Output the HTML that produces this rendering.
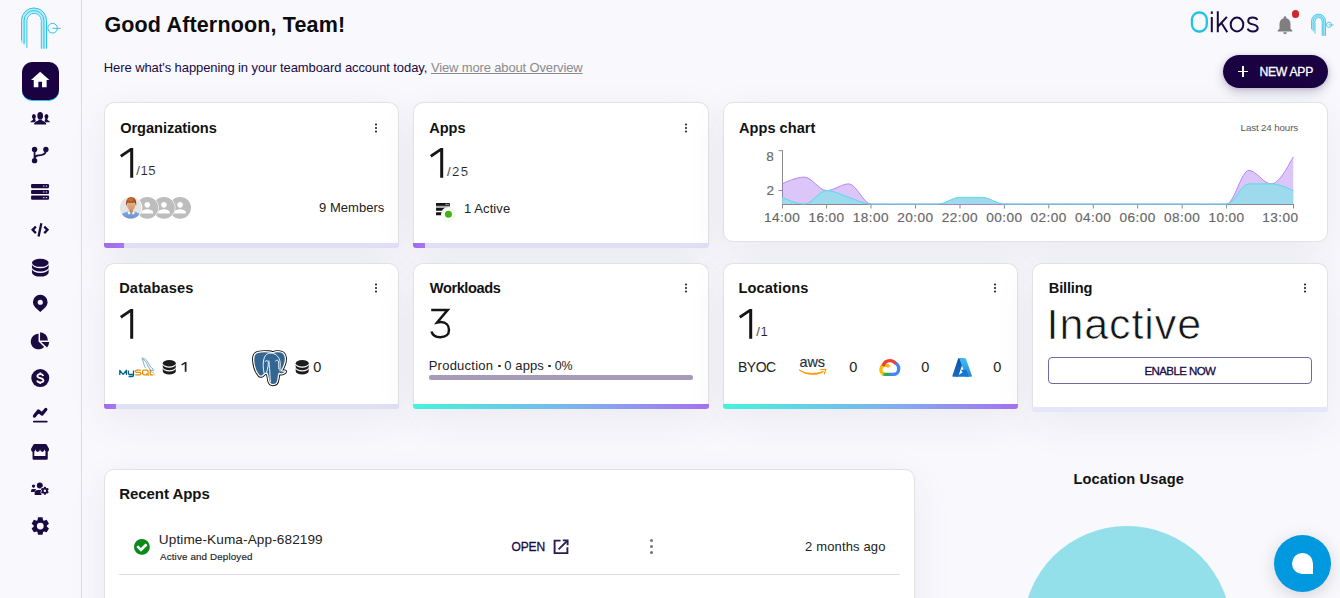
<!DOCTYPE html>
<html><head><meta charset="utf-8"><title>Oikos</title>
<style>
*{box-sizing:border-box;margin:0;padding:0}
html,body{width:1340px;height:598px;overflow:hidden}
body{background:#f8f8fd;font-family:"Liberation Sans",sans-serif;color:#1c1c1c;position:relative}
.abs{position:absolute}
.ic{position:absolute;display:block;overflow:visible}
.t{position:absolute;white-space:nowrap;line-height:1}
.card{position:absolute;background:#fff;border:1px solid #e2e2e2;border-radius:10px;box-shadow:0 12px 40px rgba(60,60,90,.07);overflow:hidden}
.card.wb{border-radius:10px 10px 0 0;border-bottom:0;overflow:visible;box-shadow:none}
.cw{position:absolute;border-radius:10px 10px 3px 3px;box-shadow:0 12px 40px rgba(60,60,90,.07)}
.ctitle{position:absolute;left:14px;top:17px;font-size:15px;font-weight:700;line-height:1;color:#111;white-space:nowrap}
.big{position:absolute;font-size:44px;line-height:1;color:#111;white-space:nowrap}
.bar{position:absolute;height:4.9px;background:#dfe0f5;border-radius:0 0 3px 3px;overflow:hidden}
.bar i{position:absolute;left:0;top:0;bottom:0;background:linear-gradient(90deg,#9c6cf0,#a975f3);display:block}
.grad{background:linear-gradient(90deg,#45f3dc 0%,#7fb2ec 55%,#a672f0 100%)}
.lt{-webkit-text-stroke:.7px #fff;paint-order:fill stroke}
.keb{position:absolute;width:2.6px;height:2.6px;border-radius:50%;background:#111;box-shadow:0 3.5px 0 #111,0 -3.5px 0 #111}
</style></head><body>

<!-- sidebar -->
<div class="abs" style="left:0;top:0;width:82px;height:598px;background:#f8f8fd;border-right:1px solid #dcdce3"></div>
<!-- logo -->
<svg class="ic" style="left:14px;top:2px;width:54px;height:52px" viewBox="14 2 54 52" fill="none">
 <path d="M23.6 43 V20.6 A10.4 10.4 0 0 1 44.4 20.6 V48.7" stroke="#bfecf8" stroke-width="5"/>
 <path d="M21.5 40.5 V20.5 A12.5 12.5 0 0 1 46.5 20.5 V48.7" stroke="#2bc4ea" stroke-width="1"/>
 <path d="M24.1 44.5 V20.5 A9.9 9.9 0 0 1 43.9 20.5 V48.7" stroke="#2bc4ea" stroke-width="1"/>
 <path d="M26.9 47.8 V20.5 A7.2 7.2 0 0 1 41.3 20.5 V48.7" stroke="#2bc4ea" stroke-width="1"/>
 <circle cx="52.6" cy="28.2" r="4.8" stroke="#2bc4ea" stroke-width="1"/>
 <path d="M52.4 28.4 H60.8" stroke="#2bc4ea" stroke-width=".9"/>
</svg>
<div class="abs" style="left:22px;top:62px;width:37px;height:37.5px;border-radius:10px;background:#1a0242;box-shadow:0 1px 0 #1fc4ee"></div>
<svg class="ic" style="left:0;top:0;width:82px;height:598px" viewBox="0 0 82 598"><path transform="translate(29.15,68.95) scale(.92)" fill="#fff" d="M10 20v-6h4v6h5v-8h3L12 3 2 12h3v8z"/><g fill="#1a0a42"><ellipse cx="33.9" cy="116.6" rx="1.95" ry="2.6"/><path d="M33 118.6V119.8C32.4 120.6 30.8 120.8 30.4 122.3H35.6V120L34.8 118.6Z"/><ellipse cx="46.45" cy="116.6" rx="1.95" ry="2.6"/><path d="M47.35 118.6V119.8C47.95 120.6 49.55 120.8 49.95 122.3H44.75V120L45.55 118.6Z"/></g><g fill="#1a0a42" stroke="#f8f8fd" stroke-width=".9" paint-order="stroke"><path d="M38.7 118V120C38.1 121 35 121.3 34.4 123L34.2 124.4H46.15L45.95 123C45.35 121.3 42.3 121 41.7 120V118Z"/><ellipse cx="40.2" cy="115.7" rx="2.85" ry="3.75"/></g><g fill="#1a0a42"><circle cx="34.57" cy="149.4" r="2.7"/><circle cx="45.9" cy="149.4" r="2.7"/><circle cx="34.57" cy="160.66" r="2.7"/></g><path d="M34.57 150V160M45.9 150.5C45.9 155.2 41 155.3 38.4 155.4C36.2 155.5 35 156.6 34.6 158.4" fill="none" stroke="#1a0a42" stroke-width="1.8"/><rect x="31.05" y="184" width="18" height="4.15" rx="1.1" fill="#1a0a42"/><rect x="43.1" y="185.47" width="1.3" height="1.2" fill="#cfc8e2"/><rect x="45.8" y="185.47" width="1.3" height="1.2" fill="#cfc8e2"/><rect x="31.05" y="189.95" width="18" height="4.05" rx="1.1" fill="#1a0a42"/><rect x="43.1" y="191.38" width="1.3" height="1.2" fill="#cfc8e2"/><rect x="45.8" y="191.38" width="1.3" height="1.2" fill="#cfc8e2"/><rect x="31.05" y="195.45" width="18" height="4.35" rx="1.1" fill="#1a0a42"/><rect x="43.1" y="197.03" width="1.3" height="1.2" fill="#cfc8e2"/><rect x="45.8" y="197.03" width="1.3" height="1.2" fill="#cfc8e2"/><path d="M35.9 226.6L32.65 229.85L35.9 233.1M44.25 226.6L47.5 229.85L44.25 233.1M41.35 223.2L38.55 236.6" fill="none" stroke="#1a0a42" stroke-width="2.3"/><g fill="#1a0a42"><ellipse cx="40.3" cy="262.8" rx="8.35" ry="4"/><path d="M31.95 264.2A8.35 4 0 0 0 48.65 264.2V267.5A8.35 4 0 0 1 31.95 267.5Z"/><path d="M31.95 269A8.35 4 0 0 0 48.65 269V272.6A8.35 4 0 0 1 31.95 272.6Z"/></g><path fill="#1a0a42" fill-rule="evenodd" d="M40.28 312.1L35.32 307.48A7.35 7.35 0 1 1 45.24 307.48ZM37.68 302.27a2.6 2.6 0 1 0 5.2 0a2.6 2.6 0 1 0 -5.2 0Z"/><path fill="#1a0a42" d="M38.55 341.6L38.55 333.85A7.75 7.75 0 1 0 44.12 346.98Z"/><path fill="#1a0a42" d="M40.05 340.55V332.3A8.1 8.1 0 0 1 47.95 340.55Z"/><path fill="#1a0a42" d="M41.2 342.1H49.1A7.9 7.9 0 0 1 47.07 347.39Z"/><circle cx="40.28" cy="378.05" r="9" fill="#1a0a42"/><path d="M43.3 376C42.8 374.6 41.7 374.1 40.2 374.1C38.4 374.1 37.4 374.9 37.4 376.1C37.4 377.3 38.5 377.8 40.4 378.2C42.4 378.7 43.4 379.3 43.4 380.5C43.4 381.7 42.2 382.4 40.4 382.4C38.6 382.4 37.5 381.7 37.1 380.4M40.3 372.4V374.3M40.3 382.2V383.9" fill="none" stroke="#fff" stroke-width="1.8"/><path d="M34.5 416.1L38.4 411.1L41.9 414.1L45.8 409.5" fill="none" stroke="#1a0a42" stroke-width="3.3" stroke-linecap="round" stroke-linejoin="round"/><path d="M33.8 421.6H46.8" stroke="#1a0a42" stroke-width="1.7" stroke-linecap="round"/><path fill="#1a0a42" d="M34.4 444.1H45.7Q46.3 444.1 46.6 444.6L49 448.7A2.25 3 0 0 1 44.52 449.3A2.25 3 0 0 1 40.04 449.3A2.25 3 0 0 1 35.56 449.3A2.25 3 0 0 1 31.08 448.7L33.5 444.6Q33.8 444.1 34.4 444.1Z"/><path fill="#1a0a42" d="M32.55 451.6V458.6Q32.55 459.8 33.8 459.8H46.5Q47.75 459.8 47.75 458.6V451.6H45.45V456H34.25V451.6Z"/><g fill="#1a0a42"><circle cx="39.8" cy="485.55" r="2.95"/><circle cx="33.5" cy="486.1" r="1.65"/><path d="M31.05 491.9V490.6Q31.05 489 32.7 489H35.4Q36 489 36 489.6L34.4 491.9Z"/><path d="M34.65 494.9V493Q34.65 490 37.8 490H40.6Q41.6 490 41.6 491V494.9Z"/></g><path fill="#1a0a42" stroke="#f8f8fd" stroke-width="1.1" paint-order="stroke" fill-rule="evenodd" d="M46.02 487.98L45.72 486.69L44.02 486.69L43.72 487.98A3.00 3.00 0 0 0 43.05 488.37L41.78 487.98L40.93 489.46L41.90 490.36A3.00 3.00 0 0 0 41.90 491.14L40.93 492.04L41.78 493.52L43.05 493.13A3.00 3.00 0 0 0 43.72 493.52L44.02 494.81L45.72 494.81L46.02 493.52A3.00 3.00 0 0 0 46.69 493.13L47.96 493.52L48.81 492.04L47.84 491.14A3.00 3.00 0 0 0 47.84 490.36L48.81 489.46L47.96 487.98L46.69 488.37A3.00 3.00 0 0 0 46.02 487.98ZM43.67 490.75a1.20 1.20 0 1 0 2.40 0a1.20 1.20 0 1 0 -2.40 0Z"/><path fill="#1a0a42" fill-rule="evenodd" d="M43.08 520.13L42.53 517.34L38.03 517.34L37.48 520.13A6.55 6.55 0 0 0 36.55 520.66L33.86 519.74L31.61 523.64L33.75 525.51A6.55 6.55 0 0 0 33.75 526.59L31.61 528.46L33.86 532.36L36.55 531.44A6.55 6.55 0 0 0 37.48 531.97L38.03 534.76L42.53 534.76L43.08 531.97A6.55 6.55 0 0 0 44.01 531.44L46.70 532.36L48.95 528.46L46.81 526.59A6.55 6.55 0 0 0 46.81 525.51L48.95 523.64L46.70 519.74L44.01 520.66A6.55 6.55 0 0 0 43.08 520.13ZM36.88 526.05a3.40 3.40 0 1 0 6.80 0a3.40 3.40 0 1 0 -6.80 0Z"/></svg>

<!-- header -->
<div class="t" style="left:104.40px;top:15.30px;font-size:21.5px;font-weight:700;color:#0c0c0c;letter-spacing:0.153px">Good Afternoon, Team!</div>
<div class="t" style="left:103.80px;top:61.10px;font-size:13.0px;font-weight:400;color:#1a0a42;letter-spacing:-0.087px">Here what's happening in your teamboard account today,</div>
<div class="t" style="left:431.00px;top:61.10px;font-size:13.0px;font-weight:400;color:#8b8b8b;letter-spacing:-0.150px"><span style="text-decoration:underline;text-underline-offset:1px">View more about Overview</span></div>
<!-- Oikos wordmark -->
<svg class="ic" style="left:1186px;top:6px;width:78px;height:32px" viewBox="1186 6 78 32" fill="none" stroke-linecap="butt">
 <rect x="1191.9" y="12.5" width="14.9" height="19" rx="6.6" ry="7.6" stroke="#1cc3ef" stroke-width="2.3"/>
 <g stroke="#1a0a42" stroke-width="2">
  <path d="M1211.8 17 V32.2"/><path d="M1211.8 11.4 V13.9"/>
  <path d="M1217.8 11.2 V32.2 M1226.9 16.9 L1218.2 26.2 M1221.3 22.8 L1227.3 32.2"/>
  <ellipse cx="1237" cy="24.5" rx="6.3" ry="6.9"/>
  <path d="M1257.4 19.8 C1256.6 18 1254.8 17.5 1252.8 17.5 C1250.2 17.5 1248.2 18.8 1248.2 20.9 C1248.2 23 1250 23.7 1252.9 24.4 C1255.8 25.1 1257.7 25.9 1257.7 28.1 C1257.7 30.3 1255.7 31.5 1252.9 31.5 C1250.4 31.5 1248.4 30.6 1247.6 28.7"/>
 </g>
</svg>
<svg class="ic" style="left:1274px;top:13.6px;width:22px;height:22px" viewBox="0 0 24 24"><path fill="#7f7f7f" d="M12 22c1.1 0 2-.9 2-2h-4c0 1.1.89 2 2 2zm6-6v-5c0-3.07-1.64-5.64-4.5-6.32V4c0-.83-.67-1.5-1.5-1.5s-1.5.67-1.5 1.5v.68C7.63 5.36 6 7.92 6 11v5l-2 2v1h16v-1l-2-2z"/></svg>
<div class="abs" style="left:1291.8px;top:10.2px;width:7.4px;height:7.4px;border-radius:50%;background:#d3262b"></div>
<!-- small logo -->
<svg class="ic" style="left:1306px;top:10px;width:32px;height:30px" viewBox="1306 10 32 30" fill="none">
 <path d="M1313.2 30.5 V21.1 A5.3 5.3 0 0 1 1323.8 21.1 V35.8" stroke="#b9eaf7" stroke-width="3.6"/>
 <path d="M1311.5 29 V21.1 A7 7 0 0 1 1325.5 21.1 V35.9" stroke="#2bc4ea" stroke-width=".8"/>
 <path d="M1313.2 31.4 V21.1 A5.3 5.3 0 0 1 1323.8 21.1 V35.9" stroke="#2bc4ea" stroke-width=".7"/>
 <path d="M1315 33.6 V21.1 A3.6 3.6 0 0 1 1322.2 21.1 V35.9" stroke="#2bc4ea" stroke-width=".8"/>
 <circle cx="1329" cy="24.8" r="2.6" stroke="#2bc4ea" stroke-width=".8"/>
 <path d="M1328.6 24.9 H1333.6" stroke="#2bc4ea" stroke-width=".8"/>
</svg>
<!-- new app -->
<div class="abs" style="left:1223px;top:55px;width:105px;height:33px;border-radius:17px;background:#1a0242;box-shadow:0 4px 12px rgba(20,10,60,.2),0 1px 4px rgba(20,10,60,.14)"></div>
<div class="abs" style="left:1237.6px;top:70.55px;width:10.8px;height:1.35px;background:#fff"></div>
<div class="abs" style="left:1242.35px;top:65.8px;width:1.35px;height:10.8px;background:#fff"></div>
<div class="t" style="left:1259.40px;top:66.00px;font-size:12.2px;font-weight:400;color:#ffffff;-webkit-text-stroke:.3px #ffffff;letter-spacing:-0.278px">NEW APP</div>

<!-- row1: Organizations -->
<div class="cw" style="left:104px;top:102px;width:295px;height:145.9px"></div><div class="card wb" style="left:104px;top:102px;width:295px;height:141px"></div><div class="bar" style="left:104px;top:243px;width:295px;height:4.9px"><i style="width:19.5px"></i></div>
<div class="t" style="left:120.20px;top:121.20px;font-size:14.6px;font-weight:700;color:#121212;letter-spacing:-0.055px">Organizations</div>
<div class="keb" style="left:374.5px;top:126.7px"></div>
<svg class="ic" style="left:119px;top:147px;width:16px;height:32px" viewBox="119 147 16 32"><path fill="#151515" d="M133.2 147.9 L130.5 147.9 L120 155.1 L121.5 157.5 L130.2 151.6 L130.2 177.7 L133.2 177.7 Z"/></svg>
<div class="t" style="left:136.30px;top:164.40px;font-size:13.2px;font-weight:400;color:#222222;-webkit-text-stroke:0.15px #fff;letter-spacing:0.485px">/15</div>
<div class="t" style="left:319.00px;top:201.10px;font-size:13.0px;font-weight:400;color:#222222;letter-spacing:0.041px">9 Members</div>
<!-- avatars -->
<svg class="ic" style="left:115px;top:192px;width:82px;height:32px" viewBox="115 192 82 32"><defs><clipPath id="avc"><circle cx="130.7" cy="207.85" r="10.75"/></clipPath><radialGradient id="hair" cx=".45" cy=".3" r=".7"><stop offset="0" stop-color="#d07a3c"/><stop offset=".55" stop-color="#a9501b"/><stop offset="1" stop-color="#823a10"/></radialGradient><linearGradient id="shirt" x1="0" y1="0" x2="0" y2="1"><stop offset="0" stop-color="#86aae2"/><stop offset="1" stop-color="#5c86cc"/></linearGradient><linearGradient id="skin" x1="0" y1="0" x2="0" y2="1"><stop offset="0" stop-color="#e3b48b"/><stop offset="1" stop-color="#d09a6c"/></linearGradient></defs><circle cx="180.1" cy="207.8" r="11.5" fill="#fff"/><circle cx="180.1" cy="207.8" r="10.9" fill="#bdbdbd"/><path transform="translate(171.46,199.05) scale(.72)" fill="#fff" d="M12 12c2.21 0 4-1.79 4-4s-1.79-4-4-4-4 1.79-4 4 1.79 4 4 4zm0 2c-2.67 0-8 1.34-8 4v2h16v-2c0-2.66-5.33-4-8-4z"/><circle cx="163.9" cy="207.8" r="11.5" fill="#fff"/><circle cx="163.9" cy="207.8" r="10.9" fill="#bdbdbd"/><path transform="translate(155.26,199.05) scale(.72)" fill="#fff" d="M12 12c2.21 0 4-1.79 4-4s-1.79-4-4-4-4 1.79-4 4 1.79 4 4 4zm0 2c-2.67 0-8 1.34-8 4v2h16v-2c0-2.66-5.33-4-8-4z"/><circle cx="147.3" cy="207.8" r="11.5" fill="#fff"/><circle cx="147.3" cy="207.8" r="10.9" fill="#bdbdbd"/><path transform="translate(138.66,199.05) scale(.72)" fill="#fff" d="M12 12c2.21 0 4-1.79 4-4s-1.79-4-4-4-4 1.79-4 4 1.79 4 4 4zm0 2c-2.67 0-8 1.34-8 4v2h16v-2c0-2.66-5.33-4-8-4z"/><circle cx="130.7" cy="207.85" r="11.6" fill="#fff"/><g clip-path="url(#avc)"><rect x="119" y="196" width="24" height="24" fill="#e4e4e4"/><path d="M118.5 221C118.8 214.6 123.8 212.4 128.6 211.6H133.6C138.2 212.4 143.2 214.6 143.5 221Z" fill="url(#shirt)"/><path d="M129.3 208.5H133.1V212.4L131.2 213.9L129.3 212.4Z" fill="#c48755"/><path d="M127.6 212.4L129.3 211L130.6 213.6L128.6 214.6ZM134.8 212.4L133.1 211L131.8 213.6L133.8 214.6Z" fill="#f4f4f4"/><ellipse cx="131.15" cy="205.8" rx="3.95" ry="4.7" fill="url(#skin)"/><path d="M126.2 206.2C125.4 201.5 127 197.2 131.3 196.9C135.4 196.9 136.9 201 136 206.2C135.6 204.6 135.3 203.4 134.6 202.6C132.6 203.2 129.6 203.2 127.8 202.4C127 203.4 126.6 204.6 126.2 206.2Z" fill="url(#hair)"/></g></svg>
<!-- Apps -->
<div class="cw" style="left:413px;top:102px;width:296px;height:145.9px"></div><div class="card wb" style="left:413px;top:102px;width:296px;height:141px"></div><div class="bar" style="left:413px;top:243px;width:296px;height:4.9px"><i style="width:11.5px"></i></div>
<div class="t" style="left:429.30px;top:121.20px;font-size:14.6px;font-weight:700;color:#121212;letter-spacing:-0.096px">Apps</div>
<div class="keb" style="left:684.6px;top:126.7px"></div>
<svg class="ic" style="left:428.6px;top:147px;width:16px;height:32px" viewBox="119 147 16 32"><path fill="#151515" d="M133.2 147.9 L130.5 147.9 L120 155.1 L121.5 157.5 L130.2 151.6 L130.2 177.7 L133.2 177.7 Z"/></svg>
<div class="t" style="left:447.10px;top:164.60px;font-size:13.2px;font-weight:400;color:#222222;-webkit-text-stroke:0.15px #fff;letter-spacing:1.285px">/25</div>
<div class="t" style="left:464.00px;top:202.30px;font-size:13.0px;font-weight:400;color:#222222;letter-spacing:0.084px">1 Active</div>
<!-- server icon + dot -->
<svg class="ic" style="left:430px;top:198px;width:30px;height:26px" viewBox="430 198 30 26"><rect x="436" y="205" width="13.9" height="3.4" fill="#aaaaaa"/><rect x="436" y="202.95" width="13.9" height="2.9" rx=".5" fill="#151515"/><rect x="445.6" y="203.9" width="1.3" height="1" fill="#d8d8d8"/><rect x="447.4" y="203.9" width="1.3" height="1" fill="#d8d8d8"/><rect x="436" y="207.95" width="13.9" height="2.75" rx=".5" fill="#151515"/><rect x="436" y="212.2" width="10" height="3.15" rx=".5" fill="#151515"/><circle cx="448.43" cy="214.35" r="7.4" fill="#f4faf0"/><circle cx="448.43" cy="214.35" r="5.3" fill="#fff"/><circle cx="448.43" cy="214.35" r="3.5" fill="#3fb30f"/></svg>
<!-- Apps chart -->
<div class="card" style="left:723px;top:102px;width:605px;height:140px"></div>
<div class="t" style="left:739.00px;top:121.00px;font-size:14.6px;font-weight:700;color:#121212;letter-spacing:0.017px">Apps chart</div>
<div class="t" style="left:1240.60px;top:122.80px;font-size:9.8px;font-weight:400;color:#5a5a5a;letter-spacing:-0.152px">Last 24 hours</div>
<svg class="ic" style="left:723px;top:102px;width:605px;height:140px" viewBox="723 102 605 140" fill="none">
 <g stroke="#8a8a8a" stroke-width="1">
  <path d="M782.5 150.2 V204.6"/><path d="M778.5 150.7 H782.5"/><path d="M778.5 190.5 H782.5"/>
  <path d="M782 204.5 H1294"/>
  <path d="M782.5 204.5 V208.5 M826.6 204.5 V208.5 M871 204.5 V208.5 M915.5 204.5 V208.5 M960 204.5 V208.5 M1004.4 204.5 V208.5 M1048.8 204.5 V208.5 M1093.3 204.5 V208.5 M1137.7 204.5 V208.5 M1182.2 204.5 V208.5 M1226.6 204.5 V208.5 M1293.5 204.5 V208.5"/>
 </g>
 <path d="M782.20,183.88C789.61,180.51 797.01,177.14 804.42,177.14C811.83,177.14 819.23,190.62 826.64,190.62C834.05,190.62 841.45,183.88 848.86,183.88C856.27,183.88 863.67,204.10 871.08,204.10C878.49,204.10 885.89,204.10 893.30,204.10C900.71,204.10 908.11,204.10 915.52,204.10C922.93,204.10 930.33,204.10 937.74,204.10C945.15,204.10 952.55,204.10 959.96,204.10C967.37,204.10 974.77,204.10 982.18,204.10C989.59,204.10 996.99,204.10 1004.40,204.10C1011.81,204.10 1019.21,204.10 1026.62,204.10C1034.03,204.10 1041.43,204.10 1048.84,204.10C1056.25,204.10 1063.65,204.10 1071.06,204.10C1078.47,204.10 1085.87,204.10 1093.28,204.10C1100.69,204.10 1108.09,204.10 1115.50,204.10C1122.91,204.10 1130.31,204.10 1137.72,204.10C1145.13,204.10 1152.53,204.10 1159.94,204.10C1167.35,204.10 1174.75,204.10 1182.16,204.10C1189.57,204.10 1196.97,204.10 1204.38,204.10C1211.79,204.10 1219.19,204.10 1226.60,204.10C1234.01,204.10 1241.41,170.40 1248.82,170.40C1256.23,170.40 1263.63,183.88 1271.04,183.88C1278.45,183.88 1285.85,170.40 1293.26,156.92L1293.26,204.1L782.20,204.1Z" fill="#a56ef0" fill-opacity="0.4" stroke="none"/><path d="M782.20,183.88C789.61,180.51 797.01,177.14 804.42,177.14C811.83,177.14 819.23,190.62 826.64,190.62C834.05,190.62 841.45,183.88 848.86,183.88C856.27,183.88 863.67,204.10 871.08,204.10C878.49,204.10 885.89,204.10 893.30,204.10C900.71,204.10 908.11,204.10 915.52,204.10C922.93,204.10 930.33,204.10 937.74,204.10C945.15,204.10 952.55,204.10 959.96,204.10C967.37,204.10 974.77,204.10 982.18,204.10C989.59,204.10 996.99,204.10 1004.40,204.10C1011.81,204.10 1019.21,204.10 1026.62,204.10C1034.03,204.10 1041.43,204.10 1048.84,204.10C1056.25,204.10 1063.65,204.10 1071.06,204.10C1078.47,204.10 1085.87,204.10 1093.28,204.10C1100.69,204.10 1108.09,204.10 1115.50,204.10C1122.91,204.10 1130.31,204.10 1137.72,204.10C1145.13,204.10 1152.53,204.10 1159.94,204.10C1167.35,204.10 1174.75,204.10 1182.16,204.10C1189.57,204.10 1196.97,204.10 1204.38,204.10C1211.79,204.10 1219.19,204.10 1226.60,204.10C1234.01,204.10 1241.41,170.40 1248.82,170.40C1256.23,170.40 1263.63,183.88 1271.04,183.88C1278.45,183.88 1285.85,170.40 1293.26,156.92" fill="none" stroke="#b286f3" stroke-width="1"/><path d="M782.20,197.36C789.61,200.73 797.01,204.10 804.42,204.10C811.83,204.10 819.23,190.62 826.64,190.62C834.05,190.62 841.45,195.11 848.86,197.36C856.27,199.61 863.67,204.10 871.08,204.10C878.49,204.10 885.89,204.10 893.30,204.10C900.71,204.10 908.11,204.10 915.52,204.10C922.93,204.10 930.33,204.10 937.74,204.10C945.15,204.10 952.55,197.36 959.96,197.36C967.37,197.36 974.77,197.36 982.18,197.36C989.59,197.36 996.99,204.10 1004.40,204.10C1011.81,204.10 1019.21,204.10 1026.62,204.10C1034.03,204.10 1041.43,204.10 1048.84,204.10C1056.25,204.10 1063.65,204.10 1071.06,204.10C1078.47,204.10 1085.87,204.10 1093.28,204.10C1100.69,204.10 1108.09,204.10 1115.50,204.10C1122.91,204.10 1130.31,204.10 1137.72,204.10C1145.13,204.10 1152.53,204.10 1159.94,204.10C1167.35,204.10 1174.75,204.10 1182.16,204.10C1189.57,204.10 1196.97,204.10 1204.38,204.10C1211.79,204.10 1219.19,204.10 1226.60,204.10C1234.01,204.10 1241.41,183.88 1248.82,183.88C1256.23,183.88 1263.63,183.88 1271.04,183.88C1278.45,183.88 1285.85,187.25 1293.26,190.62L1293.26,204.1L782.20,204.1Z" fill="#9adbec" fill-opacity="0.96" stroke="none"/><path d="M782.20,197.36C789.61,200.73 797.01,204.10 804.42,204.10C811.83,204.10 819.23,190.62 826.64,190.62C834.05,190.62 841.45,195.11 848.86,197.36C856.27,199.61 863.67,204.10 871.08,204.10C878.49,204.10 885.89,204.10 893.30,204.10C900.71,204.10 908.11,204.10 915.52,204.10C922.93,204.10 930.33,204.10 937.74,204.10C945.15,204.10 952.55,197.36 959.96,197.36C967.37,197.36 974.77,197.36 982.18,197.36C989.59,197.36 996.99,204.10 1004.40,204.10C1011.81,204.10 1019.21,204.10 1026.62,204.10C1034.03,204.10 1041.43,204.10 1048.84,204.10C1056.25,204.10 1063.65,204.10 1071.06,204.10C1078.47,204.10 1085.87,204.10 1093.28,204.10C1100.69,204.10 1108.09,204.10 1115.50,204.10C1122.91,204.10 1130.31,204.10 1137.72,204.10C1145.13,204.10 1152.53,204.10 1159.94,204.10C1167.35,204.10 1174.75,204.10 1182.16,204.10C1189.57,204.10 1196.97,204.10 1204.38,204.10C1211.79,204.10 1219.19,204.10 1226.60,204.10C1234.01,204.10 1241.41,183.88 1248.82,183.88C1256.23,183.88 1263.63,183.88 1271.04,183.88C1278.45,183.88 1285.85,187.25 1293.26,190.62" fill="none" stroke="#58dbe4" stroke-width="1"/>
</svg>
<div class="t" style="left:766.30px;top:150.00px;font-size:13.6px;font-weight:400;color:#666666;-webkit-text-stroke:.15px #666666">8</div>
<div class="t" style="left:766.50px;top:184.40px;font-size:13.6px;font-weight:400;color:#666666;-webkit-text-stroke:.15px #666666">2</div>
<div class="t" style="left:764.00px;top:210.80px;font-size:13.6px;font-weight:400;color:#666666;-webkit-text-stroke:.15px #666666;letter-spacing:0.434px">14:00</div>
<div class="t" style="left:808.40px;top:210.80px;font-size:13.6px;font-weight:400;color:#666666;-webkit-text-stroke:.15px #666666;letter-spacing:0.434px">16:00</div>
<div class="t" style="left:852.80px;top:210.80px;font-size:13.6px;font-weight:400;color:#666666;-webkit-text-stroke:.15px #666666;letter-spacing:0.434px">18:00</div>
<div class="t" style="left:897.30px;top:210.80px;font-size:13.6px;font-weight:400;color:#666666;-webkit-text-stroke:.15px #666666;letter-spacing:0.434px">20:00</div>
<div class="t" style="left:941.70px;top:210.80px;font-size:13.6px;font-weight:400;color:#666666;-webkit-text-stroke:.15px #666666;letter-spacing:0.434px">22:00</div>
<div class="t" style="left:986.20px;top:210.80px;font-size:13.6px;font-weight:400;color:#666666;-webkit-text-stroke:.15px #666666;letter-spacing:0.434px">00:00</div>
<div class="t" style="left:1030.60px;top:210.80px;font-size:13.6px;font-weight:400;color:#666666;-webkit-text-stroke:.15px #666666;letter-spacing:0.434px">02:00</div>
<div class="t" style="left:1075.10px;top:210.80px;font-size:13.6px;font-weight:400;color:#666666;-webkit-text-stroke:.15px #666666;letter-spacing:0.434px">04:00</div>
<div class="t" style="left:1119.50px;top:210.80px;font-size:13.6px;font-weight:400;color:#666666;-webkit-text-stroke:.15px #666666;letter-spacing:0.434px">06:00</div>
<div class="t" style="left:1164.00px;top:210.80px;font-size:13.6px;font-weight:400;color:#666666;-webkit-text-stroke:.15px #666666;letter-spacing:0.434px">08:00</div>
<div class="t" style="left:1208.40px;top:210.80px;font-size:13.6px;font-weight:400;color:#666666;-webkit-text-stroke:.15px #666666;letter-spacing:0.434px">10:00</div>
<div class="t" style="left:1262.20px;top:210.80px;font-size:13.6px;font-weight:400;color:#666666;-webkit-text-stroke:.15px #666666;letter-spacing:0.434px">13:00</div>

<!-- row2: Databases -->
<div class="cw" style="left:104px;top:263px;width:295px;height:145.9px"></div><div class="card wb" style="left:104px;top:263px;width:295px;height:141px"></div><div class="bar" style="left:104px;top:403.8px;width:295px;height:4.9px"><i style="width:11.5px"></i></div>
<div class="t" style="left:119.20px;top:280.70px;font-size:14.6px;font-weight:700;color:#121212;letter-spacing:0.143px">Databases</div>
<div class="keb" style="left:374.5px;top:286.7px"></div>
<svg class="ic" style="left:119px;top:308px;width:16px;height:32px" viewBox="119 147 16 32"><path fill="#151515" d="M133.2 147.9 L130.5 147.9 L120 155.1 L121.5 157.5 L130.2 151.6 L130.2 177.7 L133.2 177.7 Z"/></svg>
<svg class="ic" style="left:110px;top:345px;width:220px;height:45px" viewBox="110 345 220 45"><g fill="none" stroke="#00618a" stroke-width="1.3" stroke-linejoin="round"><path d="M119.8 375.1V370.3L123.1 374.3L126.4 370.3V375.1"/><path d="M128.4 370.5V373.2Q128.4 374.5 129.8 374.5H133.5M133.5 370.5V375.3Q133.5 376.5 132.1 376.5H128.6"/></g><g fill="none" stroke="#e48e00" stroke-width="1.25" stroke-linejoin="round"><path d="M140.8 370H136.7Q135.5 370 135.5 371.15Q135.5 372.35 136.7 372.35H139.7Q140.95 372.35 140.95 373.55Q140.95 374.75 139.7 374.75H135.3"/><rect x="142.6" y="370" width="5.5" height="4.75" rx="1.4"/><path d="M146.2 373.7L148.8 375.6"/><path d="M150.2 369.5V374.75H153" /><path d="M153 374.75H154.8" stroke-opacity=".45"/></g><g fill="none" stroke="#3a87ad" stroke-width=".65" stroke-linejoin="round"><path d="M141.4 358.2C143.6 357.8 145.6 359 146.9 360.8C148.3 362.8 149.3 365 150.6 366.8C151.6 368.2 153.2 369 153.8 370.6C152.6 370.2 151.6 370.2 150.8 370.6C150.2 369.4 149.2 368.2 148.4 366.8C147.4 365 146.8 362.8 145.4 361.2C144.6 360.2 143.4 359.4 142.4 359.2C142.6 360.4 143.2 361.6 143.6 362.8C144 364.2 144 365.4 144.6 366.6C145 367.4 145.6 367.6 145.8 368.2"/><path d="M152.2 368.2L153.2 368.8M150.4 371L154.4 373.6" stroke-width=".5"/></g><g fill="#1c1c1c"><ellipse cx="169.30" cy="363.28" rx="6.50" ry="3.23"/><path d="M162.80 364.40A6.50 3.23 0 0 0 175.80 364.40V367.07A6.50 3.23 0 0 1 162.80 367.07Z"/><path d="M162.80 368.27A6.50 3.23 0 0 0 175.80 368.27V371.17A6.50 3.23 0 0 1 162.80 371.17Z"/></g><path fill="#222" d="M186.5 361.9H184.95L181.2 364.34999999999997L182.0 365.59999999999997L184.75 363.84999999999997V371.75H186.5Z"/><g transform="translate(269.5 368) scale(.925) translate(-269.5 -368)"><path d="M257 351.2C253.5 352 252 356 252.4 360.5C252.9 366 255 372.5 258.2 376C259.5 377.4 261.6 377 262.8 375.6C264 374.2 265.4 373.4 266.8 373.6C268 376 268.2 379 268.6 381.5C269.2 384.6 271 386 273.2 386C276.4 386 278.2 383.6 278.6 380.4C278.9 377.6 279.3 375.4 279.8 373.8C281.8 374.8 284.6 374.2 286.4 372.6C287.2 371.8 286.6 371 285.6 371.2C284.2 371.5 283 371.4 282.4 370.8C285 366.5 287.2 360.5 286.6 356.5C286 352.4 282.6 350.2 278.2 350.4C276 350.5 274.4 351 273 351.5C271.4 350.8 269.6 350.4 267.6 350.5C264.4 350.2 260 350.4 257 351.2Z" fill="#111" stroke="#111" stroke-width="3.3" stroke-linejoin="round"/><path d="M257 351.2C253.5 352 252 356 252.4 360.5C252.9 366 255 372.5 258.2 376C259.5 377.4 261.6 377 262.8 375.6C264 374.2 265.4 373.4 266.8 373.6C268 376 268.2 379 268.6 381.5C269.2 384.6 271 386 273.2 386C276.4 386 278.2 383.6 278.6 380.4C278.9 377.6 279.3 375.4 279.8 373.8C281.8 374.8 284.6 374.2 286.4 372.6C287.2 371.8 286.6 371 285.6 371.2C284.2 371.5 283 371.4 282.4 370.8C285 366.5 287.2 360.5 286.6 356.5C286 352.4 282.6 350.2 278.2 350.4C276 350.5 274.4 351 273 351.5C271.4 350.8 269.6 350.4 267.6 350.5C264.4 350.2 260 350.4 257 351.2Z" fill="#336791" stroke="#fff" stroke-width="1.35" stroke-linejoin="round"/><g fill="none" stroke="#fff" stroke-width="1" stroke-linecap="round" stroke-linejoin="round"><path d="M263.6 373.4C262 366 262.4 358.5 265 354.8C267.6 351.2 272 351.4 275.6 353.2C279.6 355.4 281.3 360 281.1 365C281 368 280.7 370 280.9 371.4"/><path d="M264.8 361C265.8 359.3 267.8 359.6 268.1 361.8C268.4 364.4 267.6 368.6 266.4 372.6"/><path d="M276 360.4C277 359 279 359.4 279.3 361.3C279.6 363.4 279 366.6 279.6 369"/><path d="M268.9 360.4C269.1 366 270 371 270 376C270 379 270.2 381 270.6 383"/></g></g><g fill="#1c1c1c"><ellipse cx="302.20" cy="363.28" rx="6.50" ry="3.23"/><path d="M295.70 364.40A6.50 3.23 0 0 0 308.70 364.40V367.07A6.50 3.23 0 0 1 295.70 367.07Z"/><path d="M295.70 368.27A6.50 3.23 0 0 0 308.70 368.27V371.17A6.50 3.23 0 0 1 295.70 371.17Z"/></g></svg>
<div class="t" style="left:313.20px;top:360.00px;font-size:14.5px;font-weight:400;color:#222222">0</div>
<!-- Workloads -->
<div class="cw" style="left:413px;top:263px;width:296px;height:145.9px"></div><div class="card wb" style="left:413px;top:263px;width:296px;height:141px"></div><div class="bar grad" style="left:413px;top:403.8px;width:296px;height:4.9px"></div>
<div class="t" style="left:429.80px;top:280.70px;font-size:14.6px;font-weight:700;color:#121212;letter-spacing:-0.416px">Workloads</div>
<div class="keb" style="left:684.6px;top:286.7px"></div>
<svg class="ic" style="left:427.4px;top:306.3px;width:26px;height:35px" viewBox="428 306 26 35" fill="none"><path d="M432.2 309.9H448.7L438.1 322.5C439.4 322.25 440.8 322.1 442 322.1C447 322.1 450 325.6 450 330C450 334.6 446.6 337.2 441.3 337.2C436.8 337.2 433.5 335.2 432.5 331.5" stroke="#151515" stroke-width="2.5" stroke-linejoin="miter" stroke-miterlimit="8"/></svg>
<div class="t" style="left:428.70px;top:359.40px;font-size:13.0px;font-weight:400;color:#222222;letter-spacing:0.244px">Production</div>
<div class="abs" style="left:497.8px;top:364.6px;width:2.9px;height:2.9px;border-radius:50%;background:#222"></div>
<div class="t" style="left:504.30px;top:359.40px;font-size:13.0px;font-weight:400;color:#222222;letter-spacing:0.092px">0 apps</div>
<div class="abs" style="left:548px;top:364.6px;width:2.9px;height:2.9px;border-radius:50%;background:#222"></div>
<div class="t" style="left:554.70px;top:360.40px;font-size:12.4px;font-weight:400;color:#222222">0%</div>
<div class="abs" style="left:429.2px;top:374.8px;width:263.8px;height:4.9px;border-radius:2.1px;background:#a69bb9"></div>
<!-- Locations -->
<div class="cw" style="left:723px;top:263px;width:295px;height:145.9px"></div><div class="card wb" style="left:723px;top:263px;width:295px;height:141px"></div><div class="bar grad" style="left:723px;top:403.8px;width:295px;height:4.9px"></div>
<div class="t" style="left:738.60px;top:280.70px;font-size:14.6px;font-weight:700;color:#121212;letter-spacing:0.098px">Locations</div>
<div class="keb" style="left:993.7px;top:286.7px"></div>
<svg class="ic" style="left:737.7px;top:308px;width:16px;height:32px" viewBox="119 147 16 32"><path fill="#151515" d="M133.2 147.9 L130.5 147.9 L120 155.1 L121.5 157.5 L130.2 151.6 L130.2 177.7 L133.2 177.7 Z"/></svg>
<div class="t" style="left:756.20px;top:325.00px;font-size:13.2px;font-weight:400;color:#222222;-webkit-text-stroke:0.15px #fff;letter-spacing:0.600px">/1</div>
<div class="t" style="left:738.00px;top:360.20px;font-size:14.0px;font-weight:400;color:#222222;letter-spacing:-0.522px">BYOC</div>
<!-- aws -->
<div class="t" style="left:799.60px;top:355.00px;font-size:14.4px;font-weight:400;color:#232f3e;-webkit-text-stroke:.15px #232f3e;letter-spacing:-0.065px">aws</div>
<svg class="ic" style="left:796px;top:366px;width:34px;height:12px" viewBox="796 366 34 12">
 <path d="M799.1 369.2C806 373.9 816.5 374.1 823.2 370.8L823.7 371.9C816.5 376.2 805.5 375.9 798.9 370.3Z" fill="#ff9900"/>
 <path d="M820.4 369.7L825.9 369.3L824.3 373.9" fill="none" stroke="#ff9900" stroke-width="1.15" stroke-linejoin="round" stroke-linecap="round"/>
</svg>
<div class="t" style="left:849.30px;top:360.00px;font-size:14.5px;font-weight:400;color:#222222">0</div>
<!-- gcp -->
<svg class="ic" style="left:876px;top:356px;width:28px;height:23px" viewBox="876 356 28 23" fill="none" stroke-width="3.3">
 <path d="M894.6 362.7C897.8 363.9 898.9 366.6 898.7 369.4C898.5 372.4 896.2 374.45 893.4 374.45H889.8" stroke="#4285f4"/>
 <path d="M890.1 374.45H885.6C884.5 374.45 883.5 374.2 882.6 373.6" stroke="#34a853"/>
 <path d="M883.6 374.1C881.6 373 880.7 371.2 880.9 369.2C881.2 366.6 883.2 365 885.6 365C887.2 365 888.5 365.8 889.3 367.1" stroke="#fbbc05"/>
 <path d="M883.1 365.9C884.1 362.6 887 360.6 889.9 360.6C892.2 360.6 894.2 361.6 895.6 363.5" stroke="#ea4335"/>
</svg>
<div class="t" style="left:921.30px;top:360.00px;font-size:14.5px;font-weight:400;color:#222222">0</div>
<!-- azure -->
<svg class="ic" style="left:950px;top:356px;width:24px;height:23px" viewBox="950 356 24 23">
 <defs><linearGradient id="azl" x1="0" y1="0" x2="0" y2="1"><stop offset="0" stop-color="#104f9e"/><stop offset="1" stop-color="#156dc4"/></linearGradient>
 <linearGradient id="azr" x1="0" y1="0" x2="0" y2="1"><stop offset="0" stop-color="#3cc0f3"/><stop offset="1" stop-color="#2787de"/></linearGradient></defs>
 <path d="M958.7 358.2H964.4L958.4 375.9C958.2 376.4 957.7 376.7 957.2 376.7H952.9C952.4 376.7 952.2 376.3 952.4 375.8L958 359C958.1 358.5 958.3 358.2 958.7 358.2Z" fill="url(#azl)"/>
 <path d="M965.3 358.2H959.2L965.7 375.9C965.9 376.4 966.4 376.7 966.9 376.7H971.4C971.9 376.7 972.1 376.3 971.9 375.8L966 359C965.9 358.5 965.7 358.2 965.3 358.2Z" fill="url(#azr)"/>
 <path d="M960.9 369.7H966.3L968.9 376.7H955.6L962.6 372.4Z" fill="#1776cf"/>
</svg>
<div class="t" style="left:993.30px;top:360.00px;font-size:14.5px;font-weight:400;color:#222222">0</div>
<!-- Billing -->
<div class="cw" style="left:1032px;top:263px;width:296px;height:148.7px"></div><div class="card wb" style="left:1032px;top:263px;width:296px;height:144px"></div><div class="bar" style="left:1032px;top:406.8px;width:296px;height:4.9px;background:#e6e6f8"></div>
<div class="t" style="left:1048.80px;top:280.70px;font-size:14.6px;font-weight:700;color:#121212;letter-spacing:-0.171px">Billing</div>
<div class="keb" style="left:1303.8px;top:286.7px"></div>
<div class="t lt" style="left:1046.6px;top:302.8px;font-size:43px;letter-spacing:.9px;color:#151515">Inactive</div>
<div class="abs" style="left:1048px;top:357.2px;width:264px;height:26.6px;border:1px solid #75689f;border-radius:4px;background:#fff"></div>
<div class="t" style="left:1144.40px;top:366.00px;font-size:11.5px;font-weight:400;color:#1a0a42;-webkit-text-stroke:.3px #1a0a42;letter-spacing:-0.579px">ENABLE NOW</div>

<!-- bottom -->
<div class="card" style="left:104px;top:469px;width:811px;height:160px"></div>
<div class="t" style="left:119.20px;top:486.40px;font-size:15.0px;font-weight:700;color:#121212;letter-spacing:-0.049px">Recent Apps</div>
<svg class="ic" style="left:134.00px;top:539.10px;width:15.80px;height:15.80px" viewBox="0.0 -1408.0 1536.0 1536.0"><path fill="#0b8a1c" transform="scale(1,-1)" d="M1284 802q0 28 -18 46l-91 90q-19 19 -45 19t-45 -19l-408 -407l-226 226q-19 19 -45 19t-45 -19l-91 -90q-18 -18 -18 -46q0 -27 18 -45l362 -362q19 -19 45 -19q27 0 46 19l543 543q18 18 18 45zM1536 640q0 -209 -103 -385.5t-279.5 -279.5t-385.5 -103t-385.5 103 t-279.5 279.5t-103 385.5t103 385.5t279.5 279.5t385.5 103t385.5 -103t279.5 -279.5t103 -385.5z"/></svg>
<div class="t" style="left:158.80px;top:533.20px;font-size:13.6px;font-weight:400;color:#222222;letter-spacing:0.104px">Uptime-Kuma-App-682199</div>
<div class="t" style="left:160.00px;top:551.70px;font-size:9.8px;font-weight:400;color:#222222;-webkit-text-stroke:.15px #222222;letter-spacing:0.143px">Active and Deployed</div>
<div class="t" style="left:511.60px;top:541.00px;font-size:12.0px;font-weight:400;color:#1a0a42;-webkit-text-stroke:.3px #1a0a42;letter-spacing:-0.154px">OPEN</div>
<svg class="ic" style="left:552px;top:538px;width:18px;height:18px" viewBox="552 538 18 18" fill="none" stroke="#2a1a55" stroke-width="1.9">
 <path d="M560.6 540.6 H554.6 V553.1 H567.4 V547.2"/><path d="M562.8 540.4 H567.6 V545.2"/><path d="M567.4 540.6 L558.6 549.4"/>
</svg>
<div class="abs" style="left:649.9px;top:544.9px;width:3.5px;height:3.5px;border-radius:50%;background:#767676;box-shadow:0 6px 0 #767676,0 -6px 0 #767676"></div>
<div class="t" style="left:805.00px;top:540.00px;font-size:13.0px;font-weight:400;color:#222222;letter-spacing:0.152px">2 months ago</div>
<div class="abs" style="left:119px;top:574px;width:781px;height:1px;background:#dedede"></div>
<div class="t" style="left:1073.40px;top:472.40px;font-size:14.6px;font-weight:700;color:#121212;letter-spacing:0.138px">Location Usage</div>
<div class="abs" style="left:1023.4px;top:525.6px;width:207.2px;height:207.2px;border-radius:50%;background:#93e0ea"></div>
<!-- chat -->
<div class="abs" style="left:1274px;top:534.6px;width:57px;height:57px;border-radius:50%;background:#0099e0;box-shadow:0 4px 18px rgba(0,0,20,.15)"></div>
<div class="abs" style="left:1292.3px;top:553.1px;width:20.8px;height:21px;border-radius:50% 50% 0 50%;background:#fff"></div>

</body></html>
